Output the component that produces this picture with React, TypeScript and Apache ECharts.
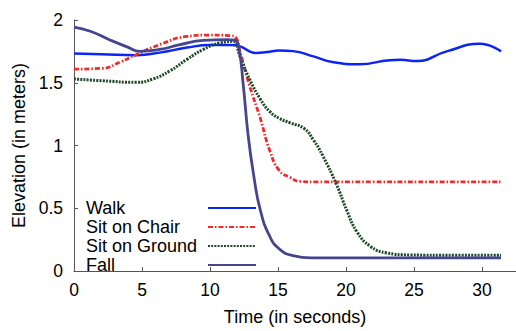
import React, { useEffect, useRef } from "react";
import * as echarts from "echarts";

const walkT = [0, 2, 4.6, 6.3, 8.3, 10, 11.5, 12.2, 12.9, 13.4, 14.2, 15.1, 16.1, 17.6, 19, 21, 23.2, 24, 25.2, 27.4, 29.85, 31.4];
const walkV = [1.733, 1.728, 1.72, 1.74, 1.78, 1.8, 1.8, 1.79, 1.75, 1.737, 1.745, 1.757, 1.752, 1.71, 1.665, 1.647, 1.68, 1.683, 1.673, 1.75, 1.81, 1.75];

const chairT = [0, 2.1, 3.4, 4.6, 6.3, 8.3, 10, 11.5, 11.9, 12.2, 12.9, 13.7, 14.4, 15.1, 15.9, 16.6, 18, 22, 26, 31.4];
const chairV = [1.608, 1.615, 1.665, 1.725, 1.804, 1.869, 1.88, 1.875, 1.86, 1.75, 1.48, 1.216, 0.957, 0.8, 0.745, 0.714, 0.71, 0.71, 0.71, 0.71];

const groundT = [0, 2.1, 4.6, 5.8, 7.06, 8.3, 9.5, 10.7, 11.7, 12.2, 12.9, 13.7, 14.4, 15.1, 15.9, 16.9, 17.6, 18.3, 19.3, 20.05, 20.8, 21.8, 23, 24.7, 28, 31.4];
const groundV = [1.53, 1.516, 1.503, 1.53, 1.595, 1.686, 1.765, 1.817, 1.83, 1.71, 1.53, 1.37, 1.27, 1.216, 1.18, 1.137, 1.045, 0.917, 0.69, 0.485, 0.313, 0.196, 0.144, 0.128, 0.125, 0.125];

const fallT = [0, 1.2, 2.6, 3.9, 4.85, 6.3, 7.8, 9.5, 11.2, 11.8, 12.1, 12.45, 12.8, 13.2, 13.7, 14.4, 15.15, 16.1, 17.5, 20, 25, 31.4];
const fallV = [1.943, 1.91, 1.843, 1.786, 1.75, 1.765, 1.804, 1.838, 1.843, 1.84, 1.79, 1.477, 1.085, 0.771, 0.485, 0.275, 0.17, 0.123, 0.105, 0.104, 0.104, 0.104];

const seriesNames = ["Walk", "Sit on Chair", "Sit on Ground", "Fall"];
const xTitle = "Time (in seconds)";
const yTitle = "Elevation (in meters)";

const zip = (t: number[], v: number[]) => t.map((x, i) => [x, v[i]]);

const FONT = "Liberation Sans, Arial, Helvetica, sans-serif";

export default function App() {
  const ref = useRef<HTMLDivElement>(null);
  useEffect(() => {
    if (!ref.current) return;
    const chart = echarts.init(ref.current, undefined, { renderer: "svg" });
    const axisLine = { show: true, lineStyle: { color: "#555", width: 1 } };
    const mk = (i: number, data: number[][], color: string, width: number, type: any) => ({
      name: seriesNames[i],
      type: "line",
      data,
      smooth: 0.5,
      showSymbol: false,
      symbol: "none",
      lineStyle: { color, width, type },
      itemStyle: { color },
    });
    chart.setOption({
      animation: false,
      backgroundColor: "#fff",
      textStyle: { fontFamily: FONT },
      grid: { left: 74, right: 0, top: 20, bottom: 56 },
      legend: {
        orient: "vertical",
        left: 86,
        top: 199,
        padding: 0,
        align: "right",
        itemWidth: 48,
        itemHeight: 14,
        itemGap: 1,
        itemStyle: { opacity: 0, borderWidth: 0 },
        formatter: (name: string) => "{a|" + name + "}",
        textStyle: {
          fontSize: 18,
          color: "#000",
          fontFamily: FONT,
          rich: { a: { fontSize: 18, color: "#000", fontFamily: FONT, width: 117, align: "left" } },
        },
        data: seriesNames,
      },
      xAxis: {
        type: "value",
        min: 0,
        max: 32.5,
        interval: 5,
        name: xTitle,
        nameLocation: "middle",
        nameGap: 37,
        nameTextStyle: { fontSize: 18, color: "#000", fontFamily: FONT },
        axisLine,
        axisTick: { show: true, inside: true, length: 4, lineStyle: { color: "#555" } },
        axisLabel: { fontSize: 17.5, color: "#000", margin: 10, showMaxLabel: false, fontFamily: FONT },
        splitLine: { show: false },
      },
      yAxis: {
        type: "value",
        min: 0,
        max: 2,
        interval: 0.5,
        name: yTitle,
        nameLocation: "middle",
        nameGap: 45,
        nameTextStyle: { fontSize: 18, color: "#000", fontFamily: FONT },
        axisLine,
        axisTick: { show: true, inside: true, length: 4, lineStyle: { color: "#555" } },
        axisLabel: { fontSize: 17.5, color: "#000", margin: 11, fontFamily: FONT },
        splitLine: { show: false },
      },
      series: [
        mk(0, zip(walkT, walkV), "#0a25f5", 2.5, "solid"),
        mk(1, zip(chairT, chairV), "#f02a2a", 2.8, [5, 2, 1.5, 2]),
        mk(2, zip(groundT, groundV), "#1e4a2a", 3, [2, 1.2]),
        mk(3, zip(fallT, fallV), "#46468f", 2.8, "solid"),
      ],
    });
    return () => chart.dispose();
  }, []);
  return <div ref={ref} style={{ width: 516, height: 331, position: "absolute", left: 0, top: 0 }} />;
}
